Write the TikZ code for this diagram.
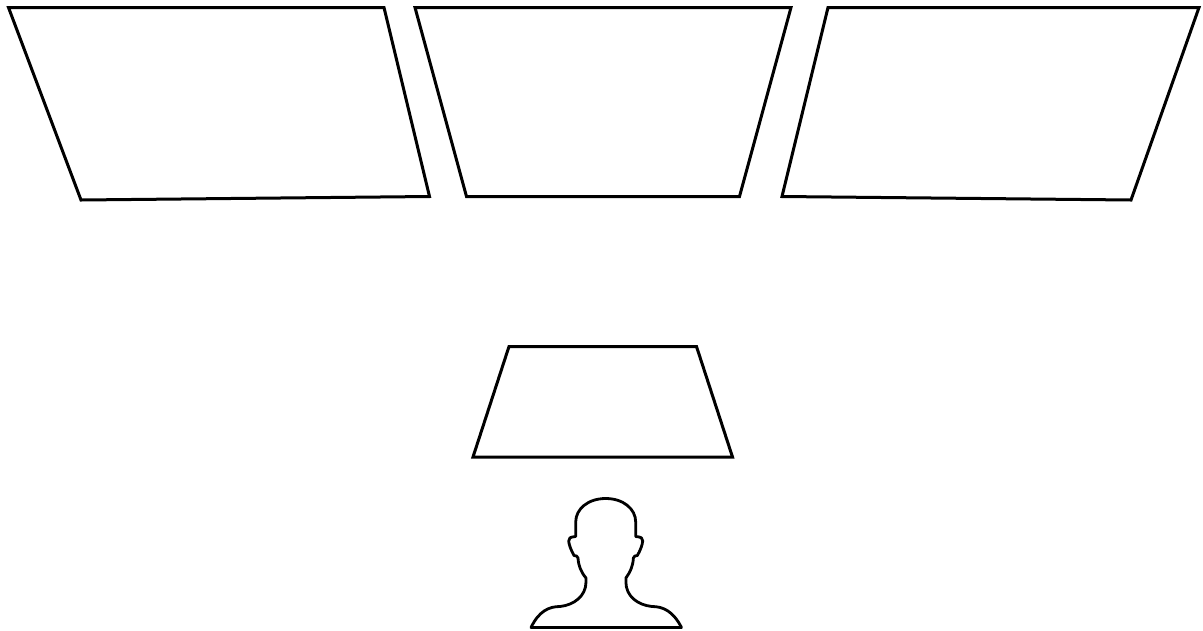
\documentclass[tikz,border=0pt]{standalone}
\tikzset{outline/.style={draw=black,line width=3pt,line join=miter,fill=white},
  headline/.style={draw=black,line width=2.8pt,line join=round,fill=white}}
\begin{document}
\begin{tikzpicture}[x=1pt,y=-1pt]
\useasboundingbox[fill=white] (0,0) rectangle (1203,630);
% wall screens
\path[outline] (8.5,7.5) -- (384,7.5) -- (429.5,196.5) -- (81,200) -- cycle;
\path[outline] (415,7.5) -- (791,7.5) -- (739.5,196.5) -- (466.5,196.5) -- cycle;
\path[outline] (828,7.5) -- (1199,7.5) -- (1131,200) -- (782,196.5) -- cycle;
% desk screen
\path[outline] (509,346.5) -- (696.5,346.5) -- (732.5,457) -- (473,457) -- cycle;
% person
\path[headline] (531,627.5)
  .. controls (539,611) and (549,606.5) .. (560,606.5)
  .. controls (574,605) and (586,596) .. (586,582)
  -- (586,578)
  .. controls (581,572) and (578.5,566) .. (578,558)
  .. controls (577.5,556) and (576,555.5) .. (574,555.5)
  .. controls (571,550) and (569,545) .. (568.7,541)
  .. controls (568.5,538) and (570,537) .. (575.7,536.5)
  -- (575.7,522)
  .. controls (575.7,509) and (588,498.5) .. (605.7,498.5)
  .. controls (623.4,498.5) and (635.7,509) .. (635.7,522)
  -- (635.7,536.5)
  .. controls (641.4,537) and (642.9,538) .. (642.7,541)
  .. controls (642.4,545) and (640.4,550) .. (637.4,555.5)
  .. controls (635.4,555.5) and (633.9,556) .. (633.4,558)
  .. controls (632.9,566) and (630.4,572) .. (625.9,578)
  -- (625.9,582)
  .. controls (625.9,596) and (637.4,605) .. (652,606.5)
  .. controls (663,606.5) and (673,611) .. (681.5,627.5)
  -- cycle;
\end{tikzpicture}
\end{document}
